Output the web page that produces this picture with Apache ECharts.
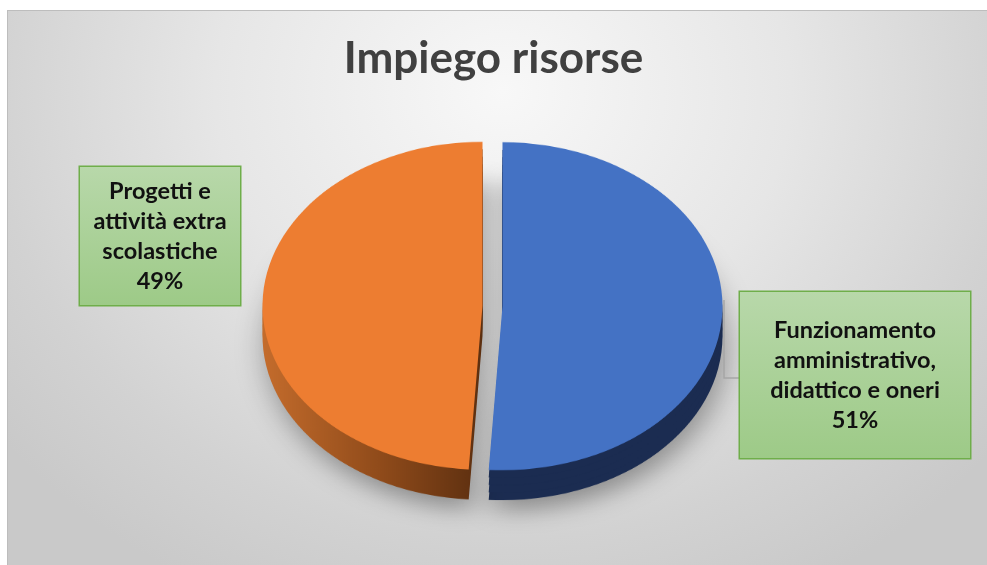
<!DOCTYPE html>
<html>
<head>
<meta charset="utf-8">
<script src="https://cdn.jsdelivr.net/npm/echarts@6/dist/echarts.min.js"></script>
<style>
html, body { margin: 0; padding: 0; background: #ffffff; width: 987px; height: 565px; overflow: hidden; }
#frame { position: absolute; left: 7px; top: 10px; width: 990px; height: 565px;
  border-left: 1.5px solid #bdbdbd; border-top: 1.5px solid #bdbdbd;
  background: radial-gradient(ellipse 640px 560px at 495px 80px, #f8f8f8 0%, #e6e6e6 45%, #d2d2d2 80%, #c9c9c9 100%); }
#pie { position: absolute; left: 0; top: 0; width: 987px; height: 758px; transform: scaleY(0.7454); transform-origin: 0 0; }
#over { position: absolute; left: 0; top: 0; width: 987px; height: 565px; }
</style>
</head>
<body>
<div id="frame"></div>
<div id="pie"></div>
<div id="over"></div>
<script>
// ---- data ----
const titleText = 'Impiego risorse';
const categories = ['Funzionamento\namministrativo,\ndidattico e oneri', 'Progetti e\nattività extra\nscolastiche'];
const values = [51, 49];

// ---- styles / layout ----
const topColors = ['#4472c4', '#ed7d31'];
const depthColors = [
  '#1b2c51',
  { type: 'linear', x: 0, y: 0, x2: 1, y2: 0, colorStops: [
    { offset: 0, color: '#c46c2c' }, { offset: 0.55, color: '#8e4a1a' }, { offset: 1, color: '#5c2f10' } ] }
];
const K = 0.7454;          // vertical squash of the pie plane
const CX = 492.5, CY = 306, R = 220, DEPTH = 30, EXPLODE = 10;
const boxes = [
  { x: 740, y: 292, w: 230, h: 166 },
  { x: 80, y: 167, w: 160, h: 138 }
];

function pieLayer(offsetPre, colors, z, extraItem) {
  return {
    type: 'pie', z: z,
    center: [CX, CY / K + offsetPre], radius: [0, R], startAngle: 90,
    selectedMode: 'multiple', selectedOffset: EXPLODE, silent: true,
    avoidLabelOverlap: false,
    label: { show: false }, labelLine: { show: false },
    emphasis: { disabled: true },
    itemStyle: extraItem || {},
    data: values.map((v, i) => ({ name: categories[i], value: v, selected: true, itemStyle: { color: colors[i] } }))
  };
}

const pieChart = echarts.init(document.getElementById('pie'));
const dPre = DEPTH / K;
pieChart.setOption({
  animation: false,
  series: [
    pieLayer(dPre, depthColors, 1, { shadowBlur: 30, shadowColor: 'rgba(0,0,0,0.35)', shadowOffsetY: 14, shadowOffsetX: 4 }),
    pieLayer(dPre * 0.75, depthColors, 2),
    pieLayer(dPre * 0.5, depthColors, 3),
    pieLayer(dPre * 0.25, depthColors, 4),
    pieLayer(0, topColors, 5)
  ]
});

const over = echarts.init(document.getElementById('over'));
over.setOption({
  animation: false,
  title: {
    text: titleText, left: 'center', top: 32,
    textStyle: { fontFamily: 'Lato', fontWeight: 'bold', fontSize: 44, color: '#404040' }
  },
  series: [{
    type: 'pie', center: [CX, CY], radius: [0, R * K], startAngle: 90, silent: true,
    avoidLabelOverlap: false,
    itemStyle: { color: 'rgba(0,0,0,0)' },
    emphasis: { disabled: true },
    label: {
      show: true, position: 'outside',
      formatter: p => p.name + '\n' + Math.round(p.percent) + '%',
      fontFamily: 'Lato', fontWeight: 'bold', fontSize: 23.5, lineHeight: 30, color: '#111111',
      backgroundColor: { type: 'linear', x: 0, y: 0, x2: 0, y2: 1, colorStops: [
        { offset: 0, color: '#b8d8aa' }, { offset: 1, color: '#9dca87' } ] },
      borderColor: '#6fae4a', borderWidth: 1.5
    },
    labelLine: { show: true, lineStyle: { color: '#a6a6a6', width: 1.5 } },
    labelLayout: function (p) {
      const b = boxes[p.dataIndex];
      const res = { x: b.x + b.w / 2, y: b.y, align: 'center', verticalAlign: 'top' };
      if (p.dataIndex === 0) {
        res.labelLinePoints = [[b.x - 16, b.y + 8], [b.x - 16, b.y + 86], [b.x, b.y + 86]];
      }
      return res;
    },
    data: values.map((v, i) => ({
      name: categories[i], value: v,
      label: { width: boxes[i].w - 6, height: 120, padding: [(boxes[i].h - 120) / 2, 3] },
      labelLine: { show: i === 0 }
    }))
  }]
});
</script>
</body>
</html>
